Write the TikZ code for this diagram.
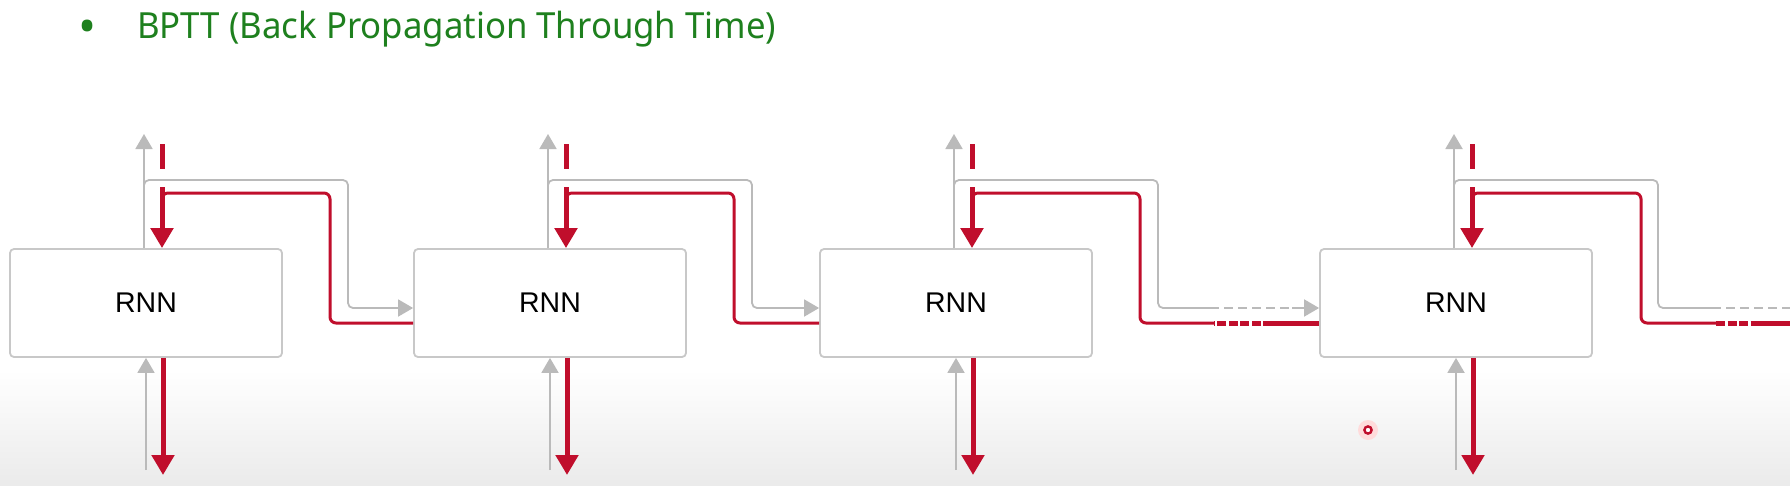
\documentclass[tikz,border=0pt]{standalone}
\usepackage{fontspec}
\usepackage{graphicx}
\setmainfont{Liberation Sans}
\newfontfamily\titlefont{Noto Sans}
\usetikzlibrary{arrows.meta}
\definecolor{bred}{RGB}{192,14,44}
\definecolor{lgray}{RGB}{186,186,186}
\definecolor{bgray}{RGB}{200,200,200}
\definecolor{tgreen}{RGB}{30,128,30}
\begin{document}
\begin{tikzpicture}[x=1pt,y=-1pt,
  rnn/.style={draw=bgray, line width=1.8pt, rounded corners=4pt, minimum width=272pt,
    minimum height=108pt, inner sep=0pt, fill=white, font=\fontsize{28.5}{30}\selectfont},
  gline/.style={draw=lgray, line width=1.8pt},
  garrow/.style={gline, -{Triangle[length=15pt,width=17pt]}},
  rthin/.style={draw=bred, line width=3pt},
  rthick/.style={draw=bred, line width=5pt},
  rarrow/.style={rthick, -{Triangle[length=20pt,width=22pt]}},
  rdash/.style={rthick, dash pattern=on 9pt off 2.5pt},
  gdash/.style={gline, dash pattern=on 9pt off 5pt}
]
\useasboundingbox (0,0) rectangle (1790,485);
\fill[white] (0,0) rectangle (1790,485);
\shade[top color=white, bottom color=black!8] (0,370) rectangle (1790,485);

% title
\node[text=tgreen, font=\titlefont\fontsize{48}{48}\selectfont, inner sep=0pt] (bullet) at (88,32) {•};
\node[anchor=base west, text=tgreen, font=\titlefont\fontsize{36}{40}\selectfont, inner sep=0pt] (title) at (137,38)
  {\resizebox{639pt}{\height}{BPTT (Back Propagation Through Time)}};

% boxes
\foreach \i/\L in {1/10,2/414,3/820,4/1320}{
  \node[rnn] (b\i) at (\L+136,303) {RNN};
  \coordinate (gtop\i) at (\L+134,134);
  \coordinate (rtopa\i) at (\L+152,144);
  \coordinate (rtopb\i) at (\L+152,169);
  \coordinate (rstart\i) at (\L+152,187);
  \coordinate (gbot\i) at (\L+136,470);
  \coordinate (rbot\i) at (\L+153,475);
  \draw[garrow] (b\i.north -| gtop\i) -- (gtop\i);
  \draw[rthick] (rtopa\i) -- (rtopb\i);
  \draw[rarrow] (rstart\i) -- (b\i.north -| rstart\i);
  \draw[garrow] (gbot\i) -- (b\i.south -| gbot\i);
  \draw[rarrow] (b\i.south -| rbot\i) -- (rbot\i);
}

% recurrent connections 1->2, 2->3
\foreach \i/\L/\j in {1/10/2, 2/414/3}{
  \draw[garrow, rounded corners=5pt] (\L+134,200) -- (\L+134,180) -- (\L+338,180) -- (\L+338,308) -- ([yshift=-5pt]b\j.west);
  \draw[rthin, rounded corners=6pt] ([yshift=-20pt]b\j.west) -- (\L+320,323) -- (\L+320,193) -- (\L+152,193) -- (\L+152,205);
}

% 3 -> 4 (with interrupted part)
\coordinate (g3a) at (1210,308);
\coordinate (g3b) at (1292,308);
\draw[gline, rounded corners=5pt] (954,200) -- (954,180) -- (1158,180) -- (1158,308) -- (g3a);
\draw[gdash] (g3a) -- (g3b);
\draw[garrow] (g3b) -- ([yshift=-5pt]b4.west);
\coordinate (r3a) at (1272,323);
\coordinate (r3b) at (1214,323);
\draw[rthick] ([yshift=-20pt]b4.west) -- (r3a);
\draw[rdash] (r3a) -- (r3b);
\draw[rthin, rounded corners=6pt] (r3b) -- (1140,323) -- (1140,193) -- (972,193) -- (972,205);

% 4 -> beyond
\coordinate (g4a) at (1712,308);
\coordinate (g4b) at (1790,308);
\draw[gline, rounded corners=5pt] (1454,200) -- (1454,180) -- (1658,180) -- (1658,308) -- (g4a);
\draw[gdash] (g4a) -- (g4b);
\coordinate (r4a) at (1716,323);
\coordinate (r4b) at (1760,323);
\coordinate (r4c) at (1790,323);
\draw[rthin, rounded corners=6pt] (r4a) -- (1641,323) -- (1641,193) -- (1472,193) -- (1472,205);
\draw[rdash] (r4a) -- (r4b);
\draw[rthick] (r4b) -- (r4c);

% cursor mark
\fill[red!14] (1368,430) circle (10);
\draw[bred, line width=2.4pt, fill=white] (1368,430) circle (3.6);
\end{tikzpicture}
\end{document}
